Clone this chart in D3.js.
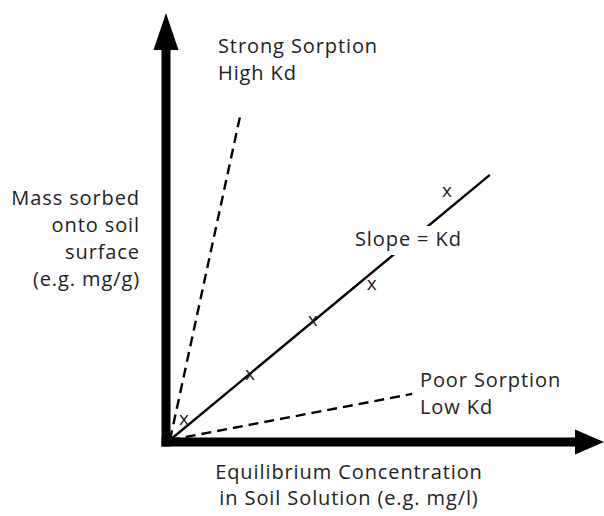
<!DOCTYPE html>
<meta charset="utf-8">
<style>
body { margin: 0; background: #fff; }
text { font-family: "Open Sans", "Noto Sans", sans-serif; fill: #222; }
.dashed { stroke: #000; stroke-width: 2.4; stroke-dasharray: 10 6; fill: none; }
.solid { stroke: #000; stroke-width: 2.4; fill: none; }
.axis { fill: #000; }
</style>
<svg id="chart" width="604" height="516"></svg>
<script src="https://d3js.org/d3.v7.min.js"></script>
<script>

// concentration (x) vs mass sorbed (y), arbitrary units 0..10
var strongLine = [[0, 0], [1.61, 7.56]];
var kdLine = [[0, 0], [7.37, 6.21]];
var poorLine = [[0, 0], [5.58, 1.08]];
var points = [[0.32, 0.49], [1.84, 1.55], [3.29, 2.81], [4.65, 3.65], [6.38, 5.83]];

var yLabel = ["Mass sorbed", "onto soil", "surface", "(e.g. mg/g)"];
var xLabel = ["Equilibrium Concentration", "in Soil Solution (e.g. mg/l)"];
var strongLabel = ["Strong Sorption", "High Kd"];
var poorLabel = ["Poor Sorption", "Low Kd"];
var slopeLabel = "Slope = Kd";

var svg = d3.select("#chart");

var x = d3.scaleLinear().domain([0, 10]).range([170, 604]);
var y = d3.scaleLinear().domain([0, 10]).range([440, 13]);

var line = d3.line()
    .x(function(d) { return x(d[0]); })
    .y(function(d) { return y(d[1]); });

// axes as thick arrows
var ox = x(0) - 4, oy = y(0) + 2;
svg.append("rect").attr("class", "axis")
    .attr("x", ox - 4.5).attr("y", y(10) + 37)
    .attr("width", 9).attr("height", oy + 4.5 - (y(10) + 37));
svg.append("path").attr("class", "axis")
    .attr("d", "M" + ox + "," + y(10) + "L" + (ox + 12.5) + "," + (y(10) + 37) + "L" + (ox - 12.5) + "," + (y(10) + 37) + "Z");

svg.append("rect").attr("class", "axis")
    .attr("x", ox - 4.5).attr("y", oy - 4.5)
    .attr("width", x(10) - 28 - (ox - 4.5)).attr("height", 9);
svg.append("path").attr("class", "axis")
    .attr("d", "M" + x(10) + "," + oy + "L" + (x(10) - 29) + "," + (oy - 12.5) + "L" + (x(10) - 29) + "," + (oy + 12.5) + "Z");

svg.append("path").datum(strongLine).attr("class", "dashed").attr("d", line);
svg.append("path").datum(poorLine).attr("class", "dashed").attr("d", line);
svg.append("path").datum(kdLine).attr("class", "solid").attr("d", line);

svg.selectAll(".pt").data(points).enter().append("text")
    .attr("class", "pt")
    .attr("x", function(d) { return x(d[0]); })
    .attr("y", function(d) { return y(d[1]) + 6; })
    .attr("text-anchor", "middle")
    .style("font-size", "19px")
    .text("x");

function block(lines, px, py, step, anchor) {
  var g = svg.append("g");
  g.selectAll("text").data(lines).enter().append("text")
      .attr("x", px)
      .attr("y", function(d, i) { return py + i * step; })
      .attr("text-anchor", anchor)
      .style("font-size", "20px")
      .style("letter-spacing", "0.9px")
      .text(function(d) { return d; });
  return g;
}

block(yLabel, 140, 205, 27, "end");
block(strongLabel, 218, 53, 27, "start");
block(poorLabel, 420, 387, 27, "start");
block(xLabel, 349, 479, 26, "middle");

// slope label sits on a white box that hides the line behind it
var slope = block([slopeLabel], 355, 246, 0, "start");
var bb = slope.node().getBBox();
slope.insert("rect", "text")
    .attr("x", bb.x - 4).attr("y", bb.y + 1)
    .attr("width", bb.width + 8).attr("height", bb.height + 2)
    .attr("fill", "#fff");

</script>
